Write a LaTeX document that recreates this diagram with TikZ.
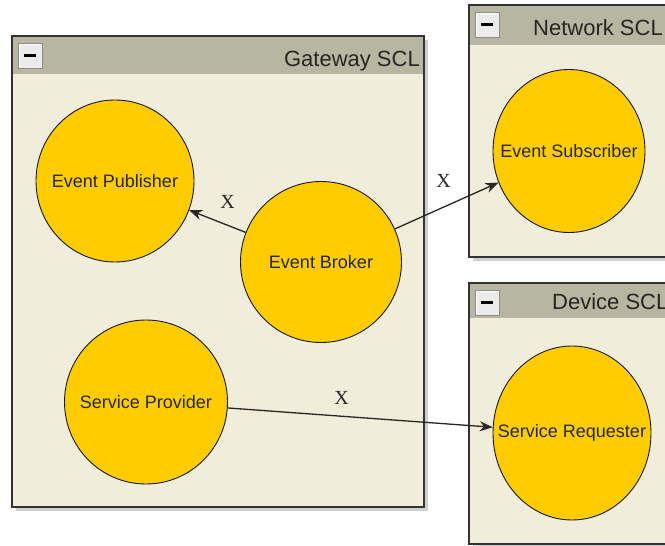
\documentclass[tikz,border=0pt]{standalone}
\usepackage{fontspec}
\setmainfont{Liberation Sans}
\newfontfamily\xfont{Liberation Serif}
\usepackage{xcolor}
\usepackage{tikz}
\usetikzlibrary{positioning, shapes.geometric, arrows.meta}

\definecolor{sclback}{RGB}{240,238,218}
\definecolor{sclhead}{RGB}{183,182,160}
\definecolor{sclshade}{RGB}{208,208,208}
\definecolor{compfill}{RGB}{255,204,0}

% frame of an SCL: x1, y1, x2, y2, bottom of the header
\newcommand{\sclframe}[5]{%
  \fill[sclshade] (#1+4,#2+4) rectangle (#3+4,#4+4);
  \fill[sclback] (#1,#2) rectangle (#3,#4);
  \fill[sclhead] (#1,#2) rectangle (#3,#5);
  \draw[line width=1.5pt,black!80] (#1,#2) rectangle (#3,#4);
  \draw[line width=1pt,black!45,fill=black!8] (#1+6,#2+7) rectangle ++(24,25);
  \draw[line width=0.8pt,white] (#1+7,#2+31) -- ++(0,-23) -- ++(22,0);
  \draw[line width=3pt] (#1+12,#2+19.5) -- ++(12,0);
}

\begin{document}
\begin{tikzpicture}[x=1pt,y=-1pt,
  comp/.style={ellipse,draw=black!90,fill=compfill,line width=0.9pt,inner xsep=-50pt,inner ysep=0pt,
    font=\fontsize{18}{20}\selectfont,text=black!85},
  link/.style={-{Stealth[length=13pt,width=10pt]},line width=1.3pt,black!85},
  xmark/.style={font=\xfont\fontsize{20}{20}\selectfont,inner sep=3pt},
  scltitle/.style={font=\fontsize{22}{24}\selectfont,text=black!85,inner sep=0pt}]
  \clip (0,0) rectangle (665,546);

  \sclframe{12}{36}{424}{507}{74}
  \sclframe{469}{5}{700}{257}{45}
  \sclframe{469}{283}{700}{544}{318}

  \node[scltitle,anchor=base east] (gateway) at (420,66) {Gateway SCL};
  \node[scltitle,anchor=base west] (network) at (533,35) {Network SCL};
  \node[scltitle,anchor=base west] (device) at (552,309) {Device SCL};

  \node[comp,minimum width=158pt,minimum height=162pt] (pub) at (115,181) {Event Publisher};
  \node[comp,minimum width=161pt,minimum height=161pt] (broker) at (321,262) {Event Broker};
  \node[comp,minimum width=163pt,minimum height=164pt] (provider) at (146,402) {Service Provider};
  \node[comp,minimum width=152pt,minimum height=163pt] (sub) at (569,151) {Event Subscriber};
  \node[comp,minimum width=158pt,minimum height=174pt] (req) at (572,433) {Service Requester};

  \draw[link] (broker) -- node[xmark,pos=0.32,above=13pt] (xpub) {X} (pub);
  \draw[link] (broker) -- node[xmark,pos=0.47,above=16pt] (xsub) {X} (sub);
  \draw[link] (provider) -- node[xmark,pos=0.43,above=8pt] (xreq) {X} (req);
\end{tikzpicture}
\end{document}
